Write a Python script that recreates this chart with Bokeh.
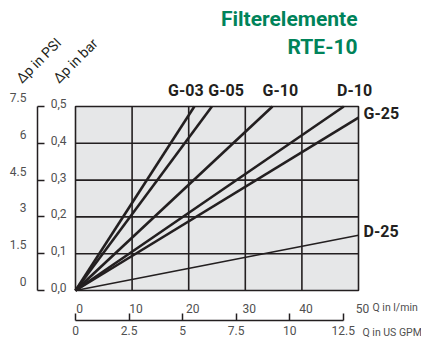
import math
from bokeh.plotting import figure
from bokeh.models import Range1d, LinearAxis, FixedTicker, Label
from bokeh.embed import file_html
from bokeh.resources import INLINE

# ---- data ----
series = ["G-03", "G-05", "G-10", "D-10", "G-25", "D-25"]
q_end = [21.0, 24.1, 34.8, 47.4, 50.0, 50.0]      # Q in l/min at line end
dp_end = [0.5, 0.5, 0.5, 0.5, 0.47, 0.15]         # delta p in bar at line end

q_ticks = [0, 10, 20, 30, 40, 50]
bar_ticks = [0, 0.1, 0.2, 0.3, 0.4, 0.5]
bar_labels = ["0,0", "0,1", "0,2", "0,3", "0,4", "0,5"]
psi_ticks = [0, 1.5, 3, 4.5, 6, 7.5]
psi_labels = ["0", "1.5", "3", "4.5", "6", "7.5"]
gpm_ticks = [0, 2.5, 5, 7.5, 10, 12.5]
gpm_labels = ["0", "2.5", "5", "7.5", "10", "12.5"]
L_PER_USGAL = 3.785
PSI_PER_BAR = 15.0   # scale used on the chart (7.5 PSI <-> 0.5 bar)

# ---- layout (pixels) ----
W, H = 421, 338
X0, X1, Y0, Y1 = 75, 358, 290, 106          # plot area left/right/bottom/top
SX = (X1 - X0) / 50.0
SY = (Y0 - Y1) / 0.5


def xd(px):
    return (px - X0) / SX


def yd(py):
    return (Y0 - py) / SY


# ---- style ----
INK = "#231f20"
GREEN = "#00835a"
TICK_COL = "#505050"
FONT = "Roboto"
line_widths = [2.6, 2.6, 2.6, 2.6, 2.6, 1.5]
lab_x = [19.5, 26.6, 36.2, 49.3, xd(363), xd(363)]
lab_y = [0.519, 0.519, 0.519, 0.519, 0.481, 0.159]
lab_align = ["center", "center", "center", "center", "left", "left"]
lab_base = ["bottom", "bottom", "bottom", "bottom", "middle", "middle"]

p = figure(width=W, height=H, output_backend="svg", toolbar_location=None,
           x_range=Range1d(xd(0), xd(W)), y_range=Range1d(yd(H), yd(0)),
           min_border=0, x_axis_location=None, y_axis_location=None)
p.grid.visible = False
p.outline_line_color = None
p.background_fill_color = "white"
p.border_fill_color = "white"

psi_off = 9 * PSI_PER_BAR / SY      # PSI labels sit above their ticks
bar_off = 3 / SY                    # bar labels sit slightly above their ticks
p.extra_y_ranges = {
    "psi": Range1d(yd(H) * PSI_PER_BAR, yd(0) * PSI_PER_BAR),
    "psi_lab": Range1d(yd(H) * PSI_PER_BAR - psi_off, yd(0) * PSI_PER_BAR - psi_off),
    "bar_lab": Range1d(yd(H) - bar_off, yd(0) - bar_off),
}
q_off = 4 / SX
p.extra_x_ranges = {
    "q_lab": Range1d(xd(0) - q_off, xd(W) - q_off),
    "gpm": Range1d(xd(0) / L_PER_USGAL, xd(W) / L_PER_USGAL),
}

# plot area, grid
p.quad(left=[q_ticks[0]], right=[q_ticks[-1]], bottom=[bar_ticks[0]], top=[bar_ticks[-1]],
       fill_color="#e6e7e8", line_color=INK, line_width=1.6)
gx = q_ticks[1:-1]
p.segment(x0=gx, y0=[bar_ticks[0]] * len(gx), x1=gx, y1=[bar_ticks[-1]] * len(gx),
          line_color=INK, line_width=1.6)
gy = bar_ticks[1:-1]
p.segment(x0=[q_ticks[0]] * len(gy), y0=gy, x1=[q_ticks[-1]] * len(gy), y1=gy,
          line_color=INK, line_width=1.6)

# series lines (from origin)
for q, dp, w in zip(q_end, dp_end, line_widths):
    p.line([0, q], [0, dp], line_color=INK, line_width=w)


def style_labels(ax, size="12px"):
    ax.major_label_text_font = FONT
    ax.major_label_text_font_size = size
    ax.major_label_text_color = TICK_COL
    ax.minor_tick_line_color = None


# bar axis (labels only)
ya = LinearAxis(y_range_name="bar_lab", ticker=FixedTicker(ticks=bar_ticks),
                fixed_location=0, bounds=(0, 0.5))
ya.major_label_overrides = {t: s for t, s in zip(bar_ticks, bar_labels)}
ya.axis_line_color = None
ya.major_tick_line_color = None
ya.major_label_standoff = 3
style_labels(ya)
p.add_layout(ya, "left")

# PSI axis: line + ticks
pa = LinearAxis(y_range_name="psi", ticker=FixedTicker(ticks=psi_ticks),
                fixed_location=xd(37), bounds=(0, 7.5))
pa.major_label_overrides = {t: "" for t in psi_ticks}
pa.axis_line_color = INK
pa.axis_line_width = 1.5
pa.major_tick_line_color = INK
pa.major_tick_line_width = 1.5
pa.major_tick_in = 7
pa.major_tick_out = 0
style_labels(pa)
p.add_layout(pa, "left")

# PSI axis labels
pl = LinearAxis(y_range_name="psi_lab", ticker=FixedTicker(ticks=psi_ticks),
                fixed_location=xd(37), bounds=(0, 7.5))
pl.major_label_overrides = {t: s for t, s in zip(psi_ticks, psi_labels)}
pl.axis_line_color = None
pl.major_tick_line_color = None
pl.major_label_standoff = 5
style_labels(pl)
p.add_layout(pl, "left")

# Q l/min axis (labels only)
xa = LinearAxis(x_range_name="q_lab", ticker=FixedTicker(ticks=q_ticks),
                fixed_location=0, bounds=(0, 50))
xa.axis_line_color = None
xa.major_tick_line_color = None
xa.major_label_standoff = 7
style_labels(xa)
p.add_layout(xa, "below")

# GPM axis
ga = LinearAxis(x_range_name="gpm", ticker=FixedTicker(ticks=gpm_ticks),
                fixed_location=yd(320), bounds=(0, 12.5))
ga.major_label_overrides = {t: s for t, s in zip(gpm_ticks, gpm_labels)}
ga.axis_line_color = INK
ga.axis_line_width = 1.5
ga.major_tick_line_color = INK
ga.major_tick_line_width = 1.5
ga.major_tick_in = 7
ga.major_tick_out = 0
ga.major_label_standoff = 5
style_labels(ga)
p.add_layout(ga, "below")

# series labels
for name, x, y, a, b in zip(series, lab_x, lab_y, lab_align, lab_base):
    p.add_layout(Label(x=x, y=y, text=name, text_font=FONT,
                       text_font_style="bold", text_font_size="16px",
                       text_color=INK, text_align=a, text_baseline=b))

# unit labels
p.add_layout(Label(x=xd(372), y=yd(307), text="Q in l/min", text_font=FONT,
                   text_font_size="10.5px", text_color=TICK_COL,
                   text_align="left", text_baseline="middle"))
p.add_layout(Label(x=xd(362), y=yd(332), text="Q in US GPM", text_font=FONT,
                   text_font_size="10.5px", text_color=TICK_COL,
                   text_align="left", text_baseline="middle"))

# rotated axis titles
TILT = math.pi / 4
p.add_layout(Label(x=xd(18), y=yd(80), text="\u0394p in PSI", text_font=FONT,
                   text_font_size="14px", text_color=INK, angle=TILT,
                   text_align="left", text_baseline="alphabetic"))
p.add_layout(Label(x=xd(55), y=yd(80), text="\u0394p in bar", text_font=FONT,
                   text_font_size="14px", text_color=INK, angle=TILT,
                   text_align="left", text_baseline="alphabetic"))

# title
p.add_layout(Label(x=xd(357), y=yd(18), text="Filterelemente", text_font=FONT,
                   text_font_style="bold", text_font_size="21px",
                   text_color=GREEN, text_align="right", text_baseline="middle"))
p.add_layout(Label(x=xd(357), y=yd(46), text="RTE-10", text_font=FONT,
                   text_font_style="bold", text_font_size="21px",
                   text_color=GREEN, text_align="right", text_baseline="middle"))

open("out.html", "w").write(file_html(p, INLINE))
